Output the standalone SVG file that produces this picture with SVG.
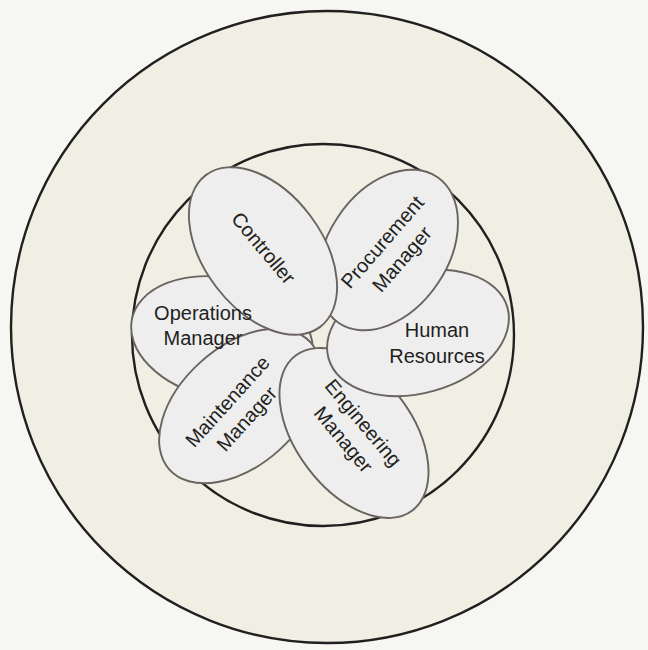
<svg xmlns="http://www.w3.org/2000/svg" width="648" height="650" viewBox="0 0 648 650">
<style>
.ring{fill:#f0efe3;stroke:#231f20;stroke-width:2.4}
.petal{fill:#eeeeef;stroke:#6a6360;stroke-width:1.9}
text{font-family:"Liberation Sans","DejaVu Sans",sans-serif;font-size:20px;fill:#231f20;text-anchor:middle}
</style>
<rect width="648" height="650" fill="#f6f6f2"/>
<g id="outer"><circle class="ring" cx="327" cy="327" r="316"/></g>
<g id="inner"><circle class="ring" cx="323" cy="335" r="191"/></g>
<g id="operations">
<ellipse class="petal" cx="222" cy="338" rx="92" ry="60" transform="rotate(12 222 338)"/>
</g>
<g id="maintenance">
<ellipse class="petal" cx="240" cy="406" rx="95" ry="59" transform="rotate(-42 240 406)"/>
</g>
<g id="engineering">
<ellipse class="petal" cx="354" cy="433" rx="97" ry="58" transform="rotate(53 354 433)"/>
</g>
<g id="human-resources">
<ellipse class="petal" cx="418" cy="333" rx="93" ry="60" transform="rotate(-16 418 333)"/>
</g>
<g id="procurement">
<ellipse class="petal" cx="388" cy="250" rx="88" ry="60" transform="rotate(-56 388 250)"/>
</g>
<g id="controller">
<ellipse class="petal" cx="263" cy="251" rx="95" ry="59" transform="rotate(53 263 251)"/>
</g>
<g id="labels">
<text x="203" y="320">Operations</text>
<text x="203" y="345">Manager</text>
<text x="437" y="337">Human</text>
<text x="437" y="363">Resources</text>
<g transform="translate(263.5 248) rotate(50)"><text y="7">Controller</text></g>
<g transform="translate(392 250.5) rotate(-49)"><text y="-6">Procurement</text><text y="20">Manager</text></g>
<g transform="translate(237 410) rotate(-48)"><text y="-6">Maintenance</text><text y="20">Manager</text></g>
<g transform="translate(353.5 431) rotate(50)"><text y="-6">Engineering</text><text y="20">Manager</text></g>
</g>
</svg>
